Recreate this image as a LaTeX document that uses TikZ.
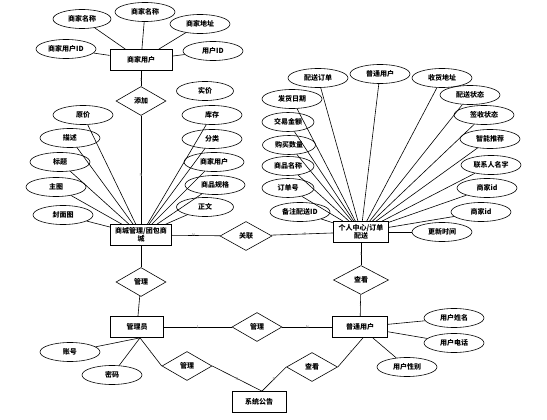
\documentclass[tikz,border=0pt]{standalone}
\usepackage{fontspec}
\setmainfont{Noto Sans CJK SC}
\usetikzlibrary{shapes.geometric,calc}
\begin{document}
\begin{tikzpicture}[x=1pt,y=-1pt,font=\fontsize{7}{8}\selectfont\bfseries,
  ent/.style={draw,line width=0.7pt,minimum height=21,inner sep=1pt,align=center},
  attr/.style={draw,line width=0.6pt,ellipse,minimum width=60,minimum height=19,inner sep=0pt},
  rel/.style={draw,line width=0.6pt,diamond,minimum width=50,minimum height=29,inner sep=0pt},
  lk/.style={line width=0.6pt},
  card/.style={font=\fontsize{4}{4}\selectfont,text=gray,inner sep=0pt}]
\useasboundingbox (0,0) rectangle (547,420);
% entities
\node[ent,minimum width=62] (shu) at (141,60) {商家用户};
\node[ent,minimum width=61,text width=58] (sc) at (141,235) {商城管理/团包商\\城};
\node[ent,minimum width=55,text width=52] (gr) at (361,232) {个人中心/订单\\配送};
\node[ent,minimum width=53] (gly) at (137,327) {管理员};
\node[ent,minimum width=55] (pt) at (360,327) {普通用户};
\node[ent,minimum width=54] (xt) at (259,402) {系统公告};
% relations
\node[rel] (tj) at (141,101) {添加};
\node[rel,minimum width=52] (gl) at (246,236) {关联};
\node[rel] (gl1) at (141,282) {管理};
\node[rel] (gl2) at (257,327) {管理};
\node[rel] (gl3) at (187,366) {管理};
\node[rel,minimum width=55] (ck1) at (361,280) {查看};
\node[rel,minimum width=51] (ck2) at (312,367) {查看};
% 商家用户 attributes
\node[attr,minimum width=58] (a1) at (82,19) {商家名称};
\node[attr] (a2) at (145,12) {商家名称};
\node[attr] (a3) at (200,24) {商家地址};
\node[attr] (a4) at (66,49) {商家用户ID};
\node[attr] (a5) at (213,51) {用户ID};
\foreach \a in {a1,a2,a3,a4,a5} \draw[lk] (\a) -- (shu);
% 商城 attributes
\node[attr,minimum width=57] (b1) at (205,91) {实价};
\node[attr] (b2) at (212,115) {库存};
\node[attr] (b3) at (212,139) {分类};
\node[attr] (b4) at (214,162) {商家用户};
\node[attr] (b5) at (215,185) {商品规格};
\node[attr,minimum width=57] (b6) at (205,207) {正文};
\node[attr] (b7) at (83,115) {原价};
\node[attr] (b8) at (70,138) {描述};
\node[attr] (b9) at (60,162) {标题};
\node[attr] (b10) at (56,187) {主图};
\node[attr] (b11) at (63,215) {封面图};
\foreach \a in {b2,b3,b4,b5,b6,b7,b8,b9,b10,b11} \draw[lk] (\a) -- (sc);
% 个人中心 attributes
\node[attr] (c1) at (318,78) {配送订单};
\node[attr] (c2) at (380,74) {普通用户};
\node[attr] (c3) at (442,78) {收货地址};
\node[attr] (c4) at (470,95) {配送状态};
\node[attr] (c5) at (484,115) {签收状态};
\node[attr] (c6) at (490,139) {智能推荐};
\node[attr] (c7) at (491,165) {联系人名字};
\node[attr] (c8) at (487,188) {商家id};
\node[attr] (c9) at (481,212) {商家id};
\node[attr] (c10) at (442,232) {更新时间};
\node[attr] (c11) at (292,99) {发货日期};
\node[attr,minimum width=52] (c12) at (288,122) {交易金额};
\node[attr,minimum width=53] (c13) at (289,145) {购买数量};
\node[attr,minimum width=52] (c14) at (288,166) {商品名称};
\node[attr,minimum width=52] (c15) at (288,188) {订单号};
\node[attr] (c16) at (300,212) {备注配送ID};
\foreach \a in {c1,c2,c3,c4,c5,c6,c7,c8,c9,c10,c11,c12,c13,c14,c15,c16} \draw[lk] (\a) -- (gr);
% 普通用户 attributes
\node[attr] (d1) at (454,318) {用户姓名};
\node[attr] (d2) at (454,343) {用户电话};
\node[attr] (d3) at (407,367) {用户性别};
\foreach \a in {d1,d2,d3} \draw[lk] (\a) -- (pt);
% 管理员 attributes
\coordinate (gp) at ($(gly.south)+(3,0)$);
\node[attr] (e1) at (70,352) {账号};
\node[attr] (e2) at (112,375) {密码};
\draw[lk] (e1) -- (gp);
\draw[lk] (e2) -- (gp);
% relationship links
\draw[lk] (shu) -- (tj) node[card,pos=0.6]{1};
\draw[lk] (tj) -- (sc) node[card,pos=0.55]{N};
\draw[lk] (sc) -- (gl) node[card,pos=0.45]{N};
\draw[lk] (gl) -- (gr) node[card,pos=0.55]{N};
\draw[lk] (gr) -- (ck1) node[card,pos=0.5]{1};
\draw[lk] (ck1) -- (pt) node[card,pos=0.5]{1};
\draw[lk] (sc) -- (gl1);
\draw[lk] (gl1) -- (gly) node[card,pos=0.5]{1};
\draw[lk] (gly) -- (gl2) node[card,pos=0.5]{1};
\draw[lk] (gl2) -- (pt) node[card,pos=0.5]{N};
\coordinate (xtp) at ($(xt.north)+(3,0)$);
\draw[lk] (gp) -- (gl3.west) node[card,pos=0.5]{1};
\draw[lk] (gl3.east) -- (xtp) node[card,pos=0.5]{N};
\draw[lk] (xtp) -- (ck2.west) node[card,pos=0.5]{N};
\coordinate (ptp) at ($(pt.south)+(3,0)$);
\draw[lk] (ck2.east) -- (ptp) node[card,pos=0.5]{1};
\end{tikzpicture}
\end{document}
